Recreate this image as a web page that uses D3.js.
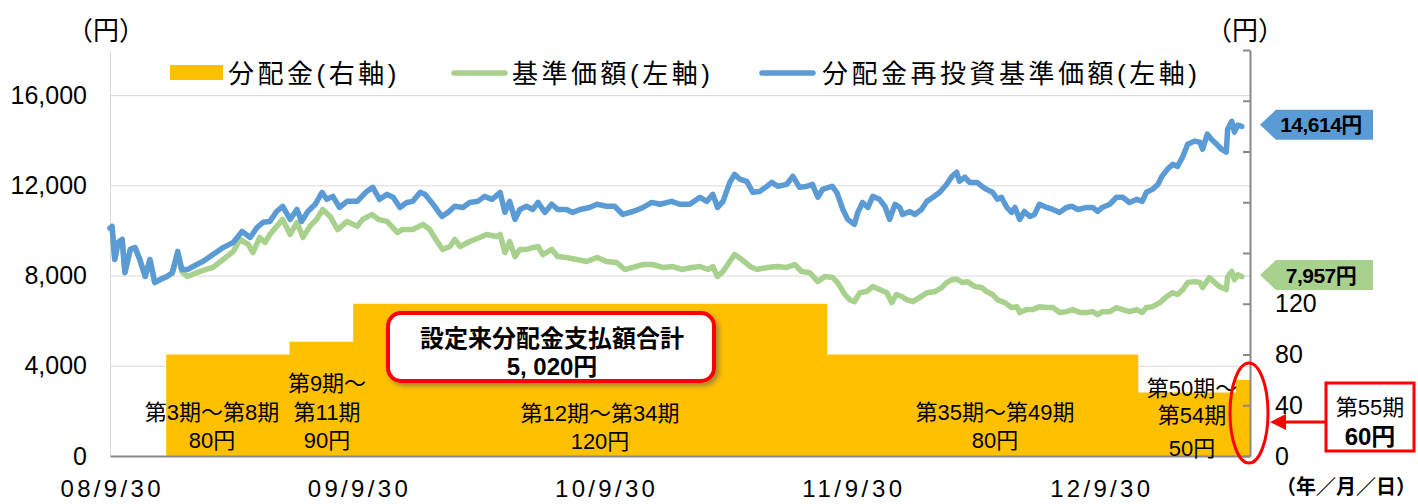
<!DOCTYPE html>
<html><head><meta charset="utf-8">
<script src="https://cdn.jsdelivr.net/npm/d3@7"></script>
<style>
html,body{margin:0;padding:0;background:#fff;}
svg{display:block;}
text{font-family:"Liberation Sans","Noto Sans CJK JP",sans-serif;fill:#000;}
</style></head><body>
<svg id="chart" width="1418" height="504"></svg>
<script>
// ---------- DATA ----------
const xTickDates = ["2008-09-30","2009-09-30","2010-09-30","2011-09-30","2012-09-30"];
const xDomain = ["2008-09-30","2013-05-10"];
const leftTicks = [0,4000,8000,12000,16000];
const rightTicks = [0,40,80,120,160,200,240,280,320];
const rightTickLabels = ["0","40","80","120","","","","",""];

const distStartDates = ["2008-12-22","2009-06-22","2009-09-24","2011-08-25","2012-11-26","2013-04-19"];
const distAmounts = [80,90,120,80,50,60];
const distTotalLabel = ["設定来分配金支払額合計","5, 020円"];
const periodLabels = [
  ["第3期～第8期","80円"],
  ["第9期～","第11期","90円"],
  ["第12期～第34期","120円"],
  ["第35期～第49期","80円"],
  ["第50期～","第54期","50円"]
];
const lastPeriodLabel = ["第55期","60円"];
const legendLabels = ["分配金(右軸)","基準価額(左軸)","分配金再投資基準価額(左軸)"];

// 分配金再投資基準価額 (blue)
const reinvDates = ["2008-09-30","2008-10-03","2008-10-07","2008-10-12","2008-10-18","2008-10-22","2008-10-30","2008-11-06","2008-11-13","2008-11-21","2008-11-28","2008-12-05","2008-12-13","2008-12-23","2008-12-31",
"2009-01-08","2009-01-14","2009-01-23","2009-02-05","2009-02-14","2009-03-01","2009-03-16","2009-03-31","2009-04-13","2009-04-25","2009-05-05","2009-05-14","2009-05-24","2009-06-03","2009-06-12","2009-06-23","2009-07-03","2009-07-10","2009-07-19","2009-07-30","2009-08-09","2009-08-16","2009-08-25","2009-09-04","2009-09-15","2009-09-30","2009-10-14","2009-10-23","2009-11-02","2009-11-13","2009-11-22","2009-12-02","2009-12-12","2009-12-21",
"2010-01-01","2010-01-08","2010-01-20","2010-02-02","2010-02-11","2010-02-21","2010-03-05","2010-03-15","2010-03-27","2010-04-06","2010-04-17","2010-04-29","2010-05-06","2010-05-13","2010-05-21","2010-05-28","2010-06-07","2010-06-16","2010-06-24","2010-07-04","2010-07-14","2010-07-23","2010-08-05","2010-08-14","2010-08-25","2010-09-08","2010-09-19","2010-10-03","2010-10-15","2010-10-27","2010-11-11","2010-11-26","2010-12-09","2010-12-21",
"2011-01-07","2011-01-19","2011-02-03","2011-02-18","2011-02-28","2011-03-09","2011-03-16","2011-03-24","2011-04-03","2011-04-10","2011-04-18","2011-04-28","2011-05-07","2011-05-17","2011-05-28","2011-06-04","2011-06-13","2011-06-26","2011-07-05","2011-07-15","2011-07-26","2011-08-03","2011-08-11","2011-08-18","2011-09-01","2011-09-08","2011-09-17","2011-09-24","2011-10-04","2011-10-09","2011-10-16","2011-10-24","2011-10-31","2011-11-10","2011-11-18","2011-11-25","2011-12-03","2011-12-10","2011-12-14","2011-12-25",
"2012-01-01","2012-01-11","2012-01-19","2012-01-28","2012-02-07","2012-02-17","2012-02-25","2012-03-03","2012-03-07","2012-03-15","2012-03-22","2012-04-02","2012-04-09","2012-04-16","2012-04-25","2012-05-02","2012-05-08","2012-05-16","2012-05-23","2012-05-28","2012-06-04","2012-06-11","2012-06-19","2012-06-26","2012-07-03","2012-07-14","2012-07-23","2012-08-02","2012-08-12","2012-08-20","2012-08-29","2012-09-11","2012-09-20","2012-09-27","2012-10-04","2012-10-15","2012-10-25","2012-11-03","2012-11-13","2012-11-24","2012-12-02","2012-12-08","2012-12-17","2012-12-25","2012-12-31",
"2013-01-08","2013-01-16","2013-01-23","2013-01-31","2013-02-07","2013-02-17","2013-02-25","2013-03-01","2013-03-08","2013-03-14","2013-03-22","2013-03-29","2013-04-05","2013-04-07","2013-04-13","2013-04-17","2013-04-22","2013-04-28"];
const reinvValues = [10100,10180,8710,9470,9600,8130,9160,9240,8710,7960,8710,7690,7820,7960,8130,
9070,8270,8270,8490,8620,8930,9240,9470,9960,9690,10130,10360,10400,10840,11070,10490,10930,10400,10840,11160,11690,11380,11510,11020,11290,11290,11730,11910,11380,11600,11470,11020,11240,11290,
11690,11600,11160,10620,10800,11070,11020,11240,11290,11510,11380,11690,10800,11290,10490,10930,11070,10930,11240,10800,11160,10930,10930,10800,10930,11020,11160,11070,11070,10710,10840,11020,11240,11160,
11290,11160,11160,11470,11290,11600,11020,11290,12130,12490,12270,12180,11690,11730,11960,12130,11960,12040,12400,11910,11960,12040,11470,11820,11960,11690,10930,10490,10270,10800,11240,11020,11510,11380,11070,10490,11160,11020,10710,10840,
10710,10930,11290,11470,11690,12040,12400,12580,12180,12360,12130,12130,11960,11820,11690,11380,11470,11020,10800,11020,10490,10840,10620,10710,11160,11020,10930,10800,11020,11070,10930,11020,11020,10840,11020,11160,11470,11470,11240,11380,11290,11690,11820,12040,12400,
12710,12930,12840,13290,13820,13960,13910,13600,14270,14040,13820,13600,13470,14490,14840,14360,14670,14614];

// 基準価額 (green)
const navDates = ["2008-09-30","2008-10-03","2008-10-07","2008-10-12","2008-10-18","2008-10-22","2008-10-30","2008-11-06","2008-11-13","2008-11-21","2008-11-28","2008-12-05","2008-12-13","2008-12-23","2008-12-31",
"2009-01-08","2009-01-14","2009-01-22","2009-02-10","2009-03-01","2009-03-16","2009-03-31","2009-04-10","2009-04-22","2009-04-29","2009-05-09","2009-05-17","2009-05-24","2009-06-03","2009-06-12","2009-06-23","2009-07-03","2009-07-12","2009-07-22","2009-08-01","2009-08-10","2009-08-21","2009-09-01","2009-09-15","2009-09-30","2009-10-08","2009-10-22","2009-10-31","2009-11-13","2009-11-28","2009-12-06","2009-12-21",
"2010-01-05","2010-01-15","2010-01-26","2010-02-03","2010-02-14","2010-02-21","2010-03-01","2010-03-15","2010-03-30","2010-04-09","2010-04-24","2010-04-29","2010-05-06","2010-05-13","2010-05-21","2010-05-28","2010-06-07","2010-06-16","2010-06-24","2010-07-01","2010-07-14","2010-07-23","2010-08-05","2010-08-20","2010-09-04","2010-09-19","2010-10-03","2010-10-18","2010-10-30","2010-11-11","2010-11-26","2010-12-10","2010-12-25",
"2011-01-09","2011-01-22","2011-02-06","2011-02-18","2011-03-02","2011-03-09","2011-03-16","2011-03-24","2011-04-03","2011-04-10","2011-04-21","2011-05-03","2011-05-13","2011-05-28","2011-06-11","2011-06-26","2011-07-08","2011-07-18","2011-07-30","2011-08-11","2011-08-21","2011-09-02","2011-09-09","2011-09-20","2011-09-27","2011-10-04","2011-10-12","2011-10-22","2011-10-31","2011-11-10","2011-11-21","2011-11-28","2011-12-05","2011-12-13","2011-12-20","2011-12-29",
"2012-01-08","2012-01-19","2012-01-31","2012-02-10","2012-02-17","2012-02-25","2012-03-04","2012-03-12","2012-03-19","2012-03-30","2012-04-09","2012-04-16","2012-04-25","2012-05-02","2012-05-13","2012-05-23","2012-05-31","2012-06-04","2012-06-14","2012-06-23","2012-07-03","2012-07-14","2012-07-23","2012-08-02","2012-08-12","2012-08-21","2012-09-01","2012-09-11","2012-09-20","2012-09-27","2012-10-04","2012-10-15","2012-10-25","2012-11-03","2012-11-13","2012-11-24","2012-12-02","2012-12-08","2012-12-17","2012-12-28",
"2013-01-07","2013-01-16","2013-01-23","2013-01-31","2013-02-07","2013-02-17","2013-02-25","2013-03-01","2013-03-11","2013-03-19","2013-03-26","2013-04-05","2013-04-07","2013-04-13","2013-04-17","2013-04-22","2013-04-28"];
const navValues = [10100,10180,8710,9470,9600,8130,9160,9240,8710,7960,8710,7690,7820,7960,8100,
8950,8180,7960,8180,8360,8710,9070,9600,9380,9020,9690,9470,9820,10180,10490,9820,10360,9690,10180,10490,10930,10620,10040,10400,10180,10490,10710,10490,10400,9910,10040,10040,
10270,10040,9510,9160,9290,9600,9290,9510,9690,9820,9730,9820,9020,9510,8840,9160,9160,9240,9290,8930,9160,8840,8800,8710,8620,8800,8620,8580,8270,8360,8490,8490,8360,
8400,8270,8360,8400,8270,8400,7960,8180,8620,8930,8710,8400,8270,8360,8400,8360,8490,8180,8130,7730,7960,7910,7690,7160,6930,6840,7240,7290,7510,7380,7240,6800,7160,7070,6930,6840,
7020,7240,7290,7470,7690,7820,7820,7690,7730,7510,7470,7290,7160,6930,6800,6580,6620,6360,6490,6490,6620,6580,6580,6360,6400,6490,6360,6360,6400,6270,6400,6400,6580,6490,6400,6490,6360,6580,6620,6800,
7070,7240,7160,7380,7690,7730,7690,7470,7910,7690,7510,7380,7960,8180,7820,8040,7957];

// ---------- CHART ----------
const parse = d3.timeParse("%Y-%m-%d");
const svg = d3.select("#chart");
const m = {left:110, right:1250, top:50, bottom:456};

const x = d3.scaleTime().domain(xDomain.map(parse)).range([m.left, m.right]);
const yL = d3.scaleLinear().domain([0,18000]).range([m.bottom, m.top]);
const yR = d3.scaleLinear().domain([0,320]).range([m.bottom, m.top]);

const COL = {yellow:"#FFC000", green:"#A9D18E", blue:"#5B9BD5", red:"#FF0000", grid:"#D9D9D9", axis:"#898989"};

const defs = svg.append("defs");
const f = defs.append("filter").attr("id","shadow").attr("x","-10%").attr("y","-20%").attr("width","130%").attr("height","160%");
f.append("feDropShadow").attr("dx",3).attr("dy",3).attr("stdDeviation",2.5).attr("flood-color","#555").attr("flood-opacity",0.55);

// gridlines
svg.append("g").attr("transform",`translate(${m.left},0)`)
  .call(d3.axisLeft(yL).tickValues(leftTicks.filter(d=>d>0)).tickSize(-(m.right-m.left)).tickFormat(""))
  .call(g=>g.select(".domain").remove())
  .call(g=>g.selectAll("line").attr("stroke",COL.grid).attr("stroke-width",1));

// distribution step area
const distPts = distStartDates.map((d,i)=>({date:parse(d), v:distAmounts[i]}));
distPts.push({date:parse(xDomain[1]), v:distAmounts[distAmounts.length-1]});
svg.append("path").datum(distPts)
  .attr("fill",COL.yellow)
  .attr("d", d3.area().curve(d3.curveStepAfter).x(d=>x(d.date)).y0(yR(0)).y1(d=>yR(d.v)));

// left axis
const gL = svg.append("g").attr("transform",`translate(${m.left},0)`)
  .call(d3.axisLeft(yL).tickValues(leftTicks).tickSize(0).tickPadding(23).tickFormat(d3.format(",")));
gL.select(".domain").attr("stroke",COL.grid).attr("stroke-width",1);
gL.selectAll("text").attr("font-size",25).attr("font-family","Liberation Sans, Arial, sans-serif");

// right axis
const gR = svg.append("g").attr("transform",`translate(${m.right},0)`)
  .call(d3.axisRight(yR).tickValues(rightTicks).tickSize(-7).tickSizeOuter(0).tickPadding(25)
    .tickFormat((d,i)=>rightTickLabels[i]));
gR.select(".domain").attr("stroke",COL.axis).attr("stroke-width",2);
gR.selectAll("line").attr("stroke",COL.axis).attr("stroke-width",2);
gR.selectAll("text").attr("font-size",25).attr("font-family","Liberation Sans, Arial, sans-serif");

// bottom axis
const gB = svg.append("g").attr("transform",`translate(0,${m.bottom})`)
  .call(d3.axisBottom(x).tickValues(xTickDates.map(parse)).tickSize(0).tickPadding(24)
    .tickFormat(d3.timeFormat("%y/%-m/%d")));
gB.select(".domain").attr("stroke",COL.axis).attr("stroke-width",2);
gB.selectAll("text").attr("font-size",24).attr("font-family","Liberation Sans, Arial, sans-serif")
  .attr("textLength",100).attr("lengthAdjust","spacing");

// lines
const lineGen = d3.line().x(d=>x(d.date)).y(d=>yL(d.v));
const navSeries = navDates.map((d,i)=>({date:parse(d), v:navValues[i]}));
const reinvSeries = reinvDates.map((d,i)=>({date:parse(d), v:reinvValues[i]}));
svg.append("path").datum(navSeries).attr("fill","none").attr("stroke",COL.green)
  .attr("stroke-width",5.5).attr("stroke-linejoin","round").attr("stroke-linecap","round").attr("d",lineGen);
svg.append("path").datum(reinvSeries).attr("fill","none").attr("stroke",COL.blue)
  .attr("stroke-width",5.5).attr("stroke-linejoin","round").attr("stroke-linecap","round").attr("d",lineGen);

// axis unit titles
const cjk = "Noto Sans CJK JP, sans-serif";
svg.append("text").attr("x",106).attr("y",40).attr("text-anchor","middle").attr("font-size",26).attr("font-family",cjk).text("（円）");
svg.append("text").attr("x",1245).attr("y",40).attr("text-anchor","middle").attr("font-size",26).attr("font-family",cjk).text("（円）");
svg.append("text").attr("x",1346).attr("y",494).attr("text-anchor","middle").attr("font-size",20).attr("font-weight","bold")
  .attr("font-family",cjk).text("（年／月／日）");

// legend
const lg = svg.append("g");
lg.append("rect").attr("x",170).attr("y",65).attr("width",53).attr("height",15).attr("fill",COL.yellow);
lg.append("line").attr("x1",454).attr("x2",505).attr("y1",73).attr("y2",73).attr("stroke",COL.green).attr("stroke-width",5.5).attr("stroke-linecap","round");
lg.append("line").attr("x1",762).attr("x2",813).attr("y1",73).attr("y2",73).attr("stroke",COL.blue).attr("stroke-width",5.5).attr("stroke-linecap","round");
[[228,0],[512,1],[822,2]].forEach(([lx,i])=>{
  lg.append("text").attr("x",lx).attr("y",83).attr("font-size",26).attr("letter-spacing","3.5px")
    .attr("font-family",cjk).text(legendLabels[i]);
});

// period labels
const periodLayout = [
  {x:212, ys:[420,448]},
  {x:327, ys:[391,420,448]},
  {x:600, ys:[421,449]},
  {x:995, ys:[420,448]},
  {x:1192, ys:[396,423,456]}
];
periodLabels.forEach((lines,i)=>{
  lines.forEach((t,j)=>{
    svg.append("text").attr("x",periodLayout[i].x).attr("y",periodLayout[i].ys[j])
      .attr("text-anchor","middle").attr("font-size",22).text(t);
  });
});

// total callout
svg.append("rect").attr("x",388).attr("y",313).attr("width",326).attr("height",68).attr("rx",13)
  .attr("fill","#fff").attr("stroke",COL.red).attr("stroke-width",4).attr("filter","url(#shadow)");
svg.append("text").attr("x",552).attr("y",347).attr("text-anchor","middle").attr("font-size",24).attr("font-weight","bold")
  .attr("font-family",cjk).text(distTotalLabel[0]);
svg.append("text").attr("x",552).attr("y",375).attr("text-anchor","middle").attr("font-size",24).attr("font-weight","bold")
  .text(distTotalLabel[1]);

// latest value tags
function tag(value, fill){
  const cy = yL(value) - 1.5;
  svg.append("path").attr("fill",fill)
    .attr("d",`M1260,${cy} L1276,${cy-15} L1373,${cy-15} L1373,${cy+15} L1276,${cy+15} Z`);
  svg.append("text").attr("x",1321).attr("y",cy+7.5).attr("text-anchor","middle").attr("font-size",21)
    .attr("font-weight","bold").attr("letter-spacing","-0.5px").text(d3.format(",")(value)+"円");
}
tag(reinvValues[reinvValues.length-1], COL.blue);
tag(navValues[navValues.length-1], COL.green);

// ellipse, arrow, last period box
svg.append("ellipse").attr("cx",1249).attr("cy",413).attr("rx",19).attr("ry",50)
  .attr("fill","none").attr("stroke",COL.red).attr("stroke-width",3);
svg.append("line").attr("x1",1284).attr("x2",1326).attr("y1",422).attr("y2",422).attr("stroke",COL.red).attr("stroke-width",3);
svg.append("path").attr("fill",COL.red).attr("d","M1270,422 L1286,414 L1286,430 Z");
svg.append("rect").attr("x",1326).attr("y",383).attr("width",88).attr("height",68)
  .attr("fill","#fff").attr("stroke",COL.red).attr("stroke-width",3);
svg.append("text").attr("x",1370).attr("y",415).attr("text-anchor","middle").attr("font-size",22).text(lastPeriodLabel[0]);
svg.append("text").attr("x",1370).attr("y",445).attr("text-anchor","middle").attr("font-size",24).attr("font-weight","bold").text(lastPeriodLabel[1]);
</script>
</body></html>
